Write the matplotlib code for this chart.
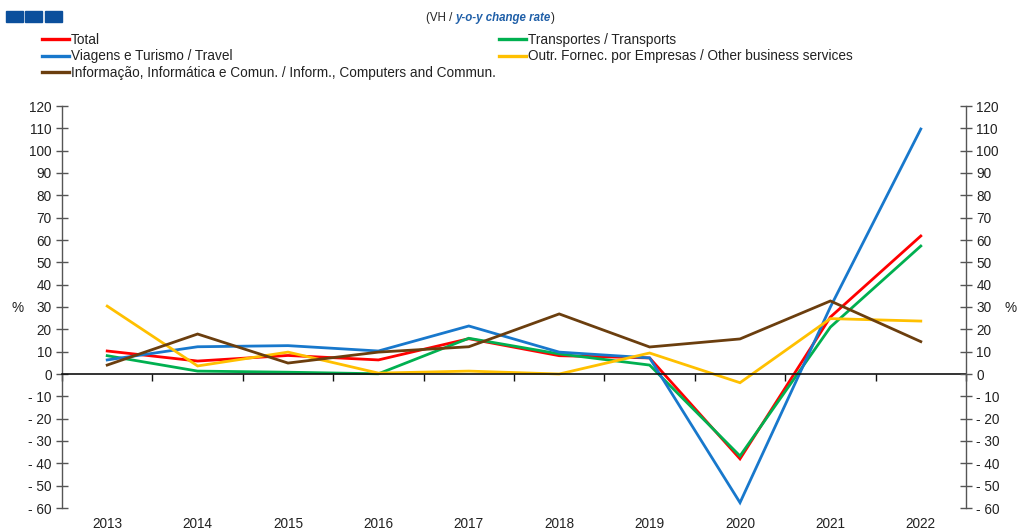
import matplotlib
matplotlib.use("Agg")
import matplotlib.pyplot as plt
from matplotlib.lines import Line2D
from matplotlib.patches import Rectangle
from matplotlib import transforms
import numpy as np

years = ["2013", "2014", "2015", "2016", "2017", "2018", "2019", "2020", "2021", "2022"]
total = [10.3, 5.8, 8.3, 6.3, 15.8, 8.2, 7.2, -38.0, 25.5, 61.8]
transportes = [8.2, 1.3, 0.8, 0.1, 16.0, 9.0, 4.0, -36.7, 21.0, 57.3]
viagens = [6.3, 12.2, 12.7, 10.3, 21.5, 9.8, 7.2, -57.6, 30.0, 109.7]
outros = [30.4, 3.6, 9.8, 0.4, 1.3, 0.0, 9.4, -3.9, 24.8, 23.7]
informacao = [4.0, 17.9, 4.9, 9.8, 12.2, 26.9, 12.1, 15.7, 32.7, 14.5]

labels = ["Total", "Transportes / Transports", "Viagens e Turismo / Travel",
          "Outr. Fornec. por Empresas / Other business services",
          "Informação, Informática e Comun. / Inform., Computers and Commun."]
colors = ["#FF0000", "#00B050", "#1878CC", "#FFC000", "#6B3E0E"]
series = [total, transportes, viagens, outros, informacao]

yticks = list(range(-60, 121, 10))

plt.rcParams['font.family'] = ['Liberation Sans', 'DejaVu Sans']
LFS = 9.8

W, H = 1018, 532
fig = plt.figure(figsize=(W / 100, H / 100), dpi=100)
ax = fig.add_axes([62 / W, 1 - 508 / H, (966 - 62) / W, (508 - 106) / H])

x = np.arange(len(years))
for s, c, lab in zip(series, colors, labels):
    ax.plot(x, s, color=c, lw=2.0, label=lab, solid_joinstyle='miter')

ax.set_xlim(-0.5, len(years) - 0.5)
ax.set_ylim(-60, 120)
ax.set_yticks(yticks)
ax.set_yticklabels([str(v) if v >= 0 else "- " + str(-v) for v in yticks], fontsize=LFS, color="#222222")
ax.spines['top'].set_visible(False)
ax.spines['right'].set_visible(False)
ax.spines['left'].set_color("#555555")
ax.spines['left'].set_linewidth(1.0)
ax.spines['bottom'].set_position(('data', 0))
ax.spines['bottom'].set_color("#111111")
ax.spines['bottom'].set_linewidth(1.2)
ax.tick_params(axis='y', direction='inout', length=9, width=1.0, color="#555555", pad=3)
ax.set_xticks(np.arange(len(years) + 1) - 0.5)
ax.set_xticklabels([])
ax.tick_params(axis='x', direction='out', length=5, width=1.0, color="#111111")

trans = transforms.blended_transform_factory(ax.transData, ax.transAxes)
for i, yr in enumerate(years):
    ax.text(i, -0.022, yr, transform=trans, ha='center', va='top', fontsize=LFS, color="#222222")

ax2 = ax.twinx()
ax2.set_ylim(-60, 120)
ax2.set_yticks(yticks)
ax2.set_yticklabels([str(v) if v >= 0 else "- " + str(-v) for v in yticks], fontsize=LFS, color="#222222")
for side in ["top", "bottom", "left"]:
    ax2.spines[side].set_visible(False)
ax2.spines['right'].set_color("#555555")
ax2.spines['right'].set_linewidth(1.0)
ax2.tick_params(axis='y', direction='inout', length=9, width=1.0, color="#555555", pad=3)

fig.text(18 / W, 1 - 308 / H, "%", fontsize=LFS, ha='center', va='center', color="#222222")
fig.text(1011 / W, 1 - 308 / H, "%", fontsize=LFS, ha='center', va='center', color="#222222")

# blue squares
for x0 in [6, 25, 45]:
    fig.patches.append(Rectangle((x0 / W, 1 - 22 / H), 16.5 / W, 10.5 / H,
                                 transform=fig.transFigure, color="#0B4F9C", zorder=5))

# subtitle
fig.canvas.draw()
r = fig.canvas.get_renderer()
SFS = 8.3
t1 = fig.text(426 / W, 1 - 18 / H, "(VH / ", fontsize=SFS, va='center', ha='left', color="#222222")
bb = t1.get_window_extent(r)
t2 = fig.text(bb.x1 / W, 1 - 18 / H, "y-o-y change rate", fontsize=SFS, va='center', ha='left',
              color="#1F5FA8", fontweight='bold', fontstyle='italic')
bb2 = t2.get_window_extent(r)
fig.text(bb2.x1 / W, 1 - 18 / H, ")", fontsize=SFS, va='center', ha='left', color="#222222")

handles = [Line2D([], [], color=c, lw=2.4) for c in colors]
common = dict(loc='upper left', frameon=False, fontsize=LFS, handlelength=2.0,
              handletextpad=0.1, labelspacing=0.18, borderaxespad=0, borderpad=0)
leg1 = fig.legend([handles[0], handles[2], handles[4]], [labels[0], labels[2], labels[4]],
                  bbox_to_anchor=(42 / W, 1 - 33 / H), **common)
leg2 = fig.legend([handles[1], handles[3]], [labels[1], labels[3]],
                  bbox_to_anchor=(499 / W, 1 - 33 / H), **common)
for leg in (leg1, leg2):
    for t in leg.get_texts():
        t.set_color("#222222")

fig.savefig("out.png", dpi=100)
